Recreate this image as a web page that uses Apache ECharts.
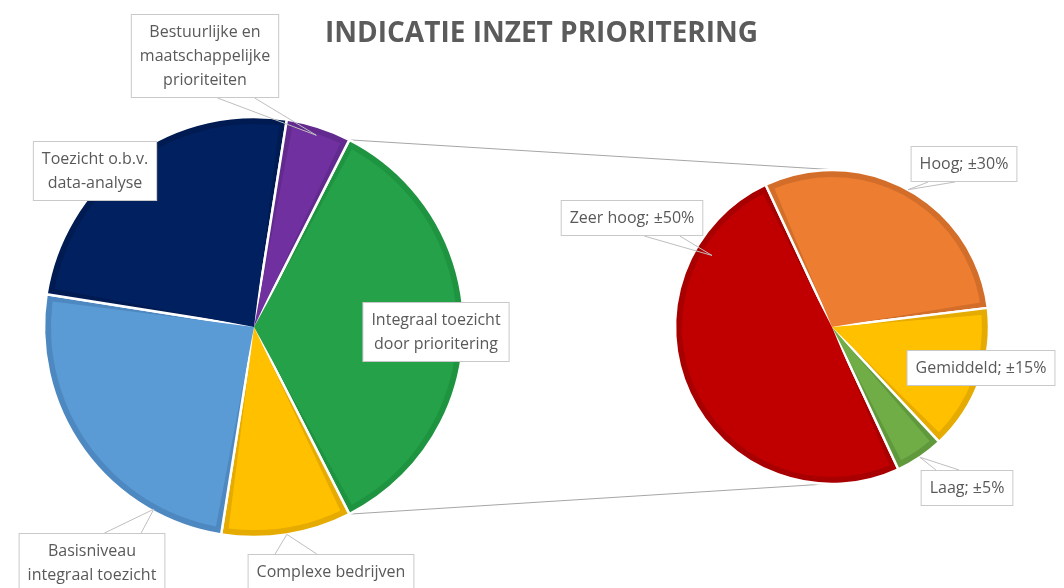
<!DOCTYPE html>
<html>
<head>
<meta charset="utf-8">
<script src="https://cdn.jsdelivr.net/npm/echarts@6/dist/echarts.min.js"></script>
<style>
  html, body { margin: 0; padding: 0; background: #fff; }
  #chart { width: 1064px; height: 588px; }
</style>
</head>
<body>
<div id="chart"></div>
<script>
// main pie
const mainNames = ['Integraal toezicht\ndoor prioritering', 'Complexe bedrijven', 'Basisniveau\nintegraal toezicht', 'Toezicht o.b.v.\ndata-analyse', 'Bestuurlijke en\nmaatschappelijke\nprioriteiten'];
const mainValues = [35, 10, 25, 25, 5];
const mainColors = ['#24a149', '#ffc000', '#5b9bd5', '#002060', '#7030a0'];
const mainEdge = ['#1e9440', '#e6ab00', '#4d88c0', '#001b52', '#622a8e'];

// second pie: split of "Integraal toezicht door prioritering"
const subNames = ['Zeer hoog; ±50%', 'Hoog; ±30%', 'Gemiddeld; ±15%', 'Laag; ±5%'];
const subValues = [50, 30, 15, 5];
const subColors = ['#c00000', '#ed7d31', '#ffc000', '#70ad47'];
const subEdge = ['#a80000', '#d36e2a', '#e6ab00', '#60993b'];

// geometry (start = degrees clockwise from 12 o'clock)
const sum = a => a.reduce((s, v) => s + v, 0);
const L = { cx: 254, cy: 327, r: 210, band: 7, start: 90 - mainValues[0] / sum(mainValues) * 180 };
const R = { cx: 832, cy: 327, r: 157, band: 7, start: 155 };

// label boxes (centre) and where the callout points: [fraction of slice, fraction of radius]
const mainLabelPos = [[436, 332], [331, 572], [92, 563], [95, 171], [205, 56]];
const mainTips = [null, [0.5, 1], [0.22, 0.99], null, [0.5, 0.96]];
const subLabelPos = [[632, 218], [964, 164], [981, 368], [967, 488]];
const subTips = [[0.81, 0.89], [0.5, 1], null, [0.5, 1]];

function sliceAngles(values, start) {
  const total = sum(values);
  let a = start;
  return values.map(v => {
    const a0 = a;
    a += v / total * 360;
    return [a0, a];
  });
}

function pointAt(pie, deg, k) {
  const rad = deg * Math.PI / 180;
  return [pie.cx + pie.r * k * Math.sin(rad), pie.cy - pie.r * k * Math.cos(rad)];
}

function makeLayout(pie, values, pos, tips) {
  const ang = sliceAngles(values, pie.start);
  return function (p) {
    const i = p.dataIndex;
    const x = pos[i][0], y = pos[i][1];
    const w = p.labelRect.width, h = p.labelRect.height;
    const out = { x: x, y: y, align: 'center', verticalAlign: 'middle' };
    if (tips[i]) {
      const deg = ang[i][0] + tips[i][0] * (ang[i][1] - ang[i][0]);
      const tip = pointAt(pie, deg, tips[i][1]);
      const left = x - w / 2, top = y - h / 2;
      const ey = tip[1] > y ? top + h : top;
      const c = Math.min(Math.max(tip[0], left + 0.29 * w), left + 0.71 * w);
      const hw = 0.125 * w;
      out.labelLinePoints = [[c - hw, ey], tip, [c + hw, ey]];
    }
    return out;
  };
}

const labelStyle = {
  position: 'outside',
  formatter: '{b}',
  color: '#595959',
  fontFamily: 'Open Sans',
  fontSize: 16,
  lineHeight: 24,
  align: 'center',
  backgroundColor: '#fff',
  borderColor: '#c9c9c9',
  borderWidth: 1,
  padding: [5, 8, 5, 8]
};

function pieLayers(pie, names, values, colors, edges, pos, tips, inside) {
  const center = [pie.cx, pie.cy];
  const startAngle = 90 - pie.start;
  const base = {
    type: 'pie', center: center, startAngle: startAngle, clockwise: true,
    silent: true, emphasis: { disabled: true }, avoidLabelOverlap: false
  };
  return [
    Object.assign({}, base, {
      radius: pie.r,
      label: { show: false }, labelLine: { show: false },
      itemStyle: { borderColor: '#fff', borderWidth: 2.5 },
      data: values.map((v, i) => ({ name: names[i], value: v, itemStyle: { color: edges[i] } }))
    }),
    Object.assign({}, base, {
      radius: pie.r - pie.band,
      padAngle: pie.band * 1.9 / pie.r * 180 / Math.PI,
      label: { show: false }, labelLine: { show: false },
      data: values.map((v, i) => ({ name: names[i], value: v, itemStyle: { color: colors[i] } }))
    }),
    Object.assign({}, base, {
      radius: pie.r,
      z: 5,
      itemStyle: { color: 'rgba(0,0,0,0)' },
      label: labelStyle,
      labelLine: { show: true, length: 8, length2: 8, smooth: false, lineStyle: { color: '#bfbfbf', width: 1 } },
      labelLayout: makeLayout(pie, values, pos, tips),
      data: values.map((v, i) => {
        const d = { name: names[i], value: v };
        if (inside.indexOf(i) >= 0) d.labelLine = { show: false };
        return d;
      })
    })
  ];
}

// connector lines from the split slice to the second pie
const mainAng = sliceAngles(mainValues, L.start);
const topPt = pointAt(L, mainAng[0][0], 1);
const botPt = pointAt(L, mainAng[0][1], 1);

const chart = echarts.init(document.getElementById('chart'));
chart.setOption({
  animation: false,
  backgroundColor: '#fff',
  title: {
    text: 'INDICATIE INZET PRIORITERING',
    left: 320,
    top: 15,
    textStyle: { fontFamily: 'Open Sans', fontSize: 28, fontWeight: 'bold', color: '#5b5b5b' }
  },
  graphic: [
    { type: 'line', silent: true, z: 1, shape: { x1: topPt[0], y1: topPt[1], x2: R.cx + 6, y2: R.cy - R.r }, style: { stroke: '#a6a6a6', lineWidth: 1 } },
    { type: 'line', silent: true, z: 1, shape: { x1: botPt[0], y1: botPt[1], x2: R.cx - 6, y2: R.cy + R.r }, style: { stroke: '#a6a6a6', lineWidth: 1 } }
  ],
  series: [].concat(
    pieLayers(L, mainNames, mainValues, mainColors, mainEdge, mainLabelPos, mainTips, [0, 3]),
    pieLayers(R, subNames, subValues, subColors, subEdge, subLabelPos, subTips, [2])
  )
});
</script>
</body>
</html>
